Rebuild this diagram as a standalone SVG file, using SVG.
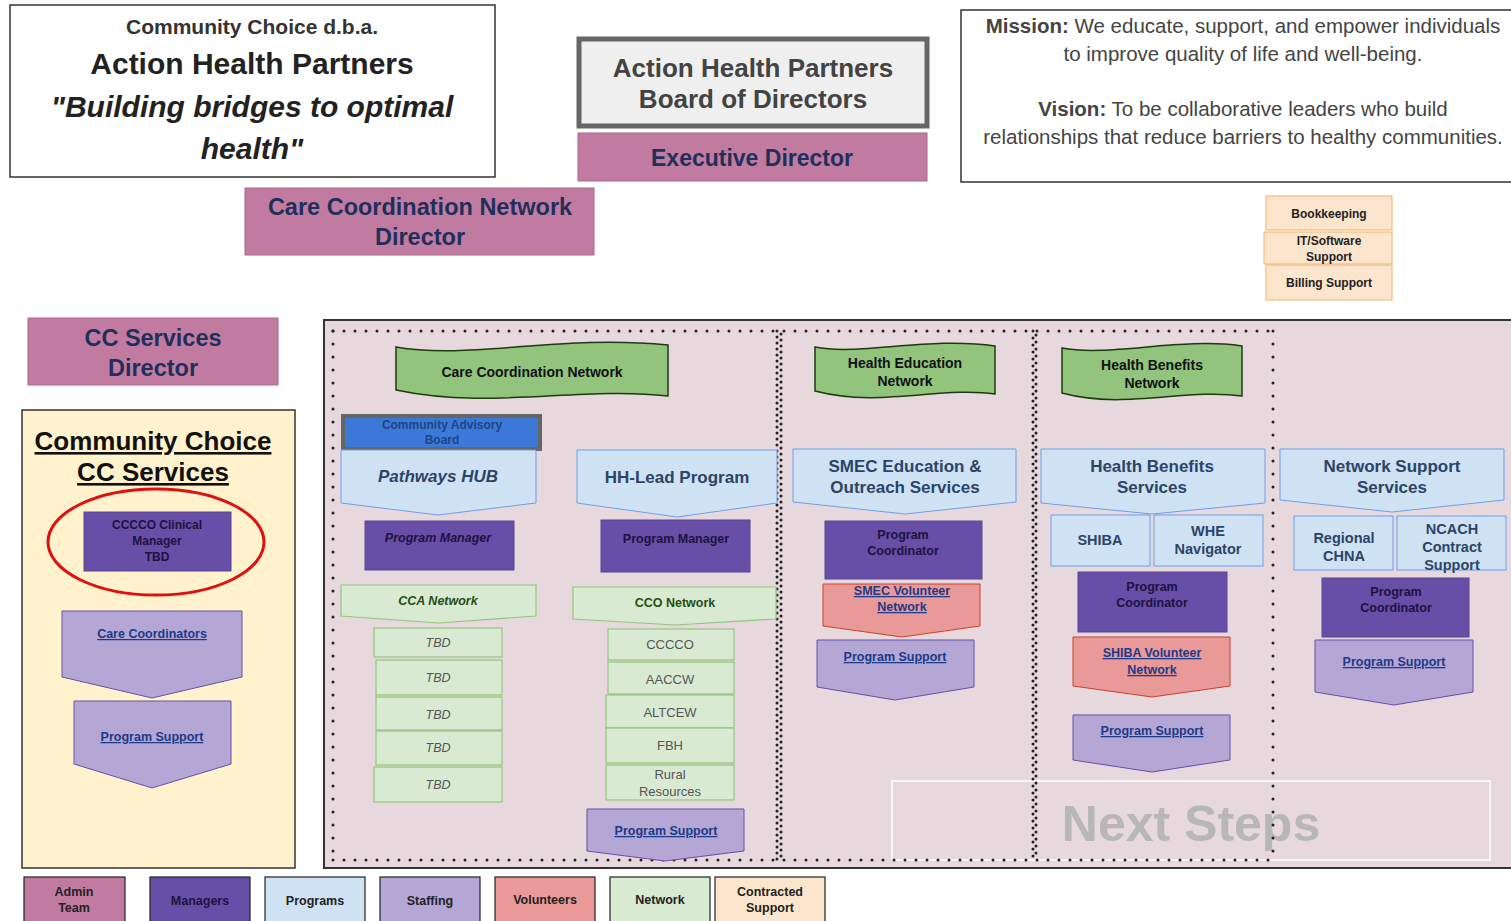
<svg xmlns="http://www.w3.org/2000/svg" width="1511" height="921" viewBox="0 0 1511 921">
<style>
text{font-family:"Liberation Sans",Arial,sans-serif;text-anchor:middle;font-weight:bold}
text.n,tspan.n{font-weight:normal}
.admin{fill:#c27ba0;stroke:#a86a8c;stroke-width:1}
.mgr{fill:#674ea7;stroke:#5b4595;stroke-width:1}
.prog{fill:#cfe2f3;stroke:#6d9eeb;stroke-width:1}
.staff{fill:#b4a7d6;stroke:#674ea7;stroke-width:1}
.vol{fill:#ea9999;stroke:#cc4125;stroke-width:1}
.net{fill:#d9ead3;stroke:#93c47d;stroke-width:1.2}
.con{fill:#fce5cd;stroke:#f6b26b;stroke-width:1}
.wave{fill:#93c47d;stroke:#1f3a10;stroke-width:1.5}
.navy{fill:#1f2f5c}
.pt{fill:#2b4468}
.dk{fill:#1b1340}
.lk{fill:#1c3a87;text-decoration:underline}
.gr{fill:#274e13}
.dot{fill:none;stroke:#222;stroke-width:3;stroke-linecap:round}
.leg{stroke:#222;stroke-width:1.2}
</style>
<rect width="1511" height="921" fill="#ffffff"/>

<g id="title">
<rect x="10" y="5" width="485" height="172" fill="#ffffff" stroke="#333" stroke-width="1.5"/>
<text x="252" y="34" font-size="21" fill="#333">Community Choice d.b.a.</text>
<text x="252" y="74" font-size="30" fill="#222">Action Health Partners</text>
<text x="252" y="117" font-size="30" fill="#222" font-style="italic">"Building bridges to optimal</text>
<text x="252" y="159" font-size="30" fill="#222" font-style="italic">health"</text>
</g>

<g id="board">
<rect x="579" y="39" width="348" height="87" fill="#efefef" stroke="#666" stroke-width="5"/>
<text x="753" y="77" font-size="26" fill="#434343">Action Health Partners</text>
<text x="753" y="108" font-size="26" fill="#434343">Board of Directors</text>
</g>

<g id="exec">
<rect class="admin" x="578" y="133" width="349" height="48"/>
<text class="navy" x="752" y="166" font-size="23">Executive Director</text>
</g>

<g id="mission">
<rect x="961" y="10" width="560" height="172" fill="#ffffff" stroke="#333" stroke-width="1.5"/>
<text class="n" x="1243" y="33" font-size="20.5" fill="#444"><tspan style="font-weight:bold">Mission:</tspan>  We educate, support, and empower individuals</text>
<text class="n" x="1243" y="61" font-size="20.5" fill="#444">to improve quality of life and well-being.</text>
<text class="n" x="1243" y="116" font-size="20.5" fill="#444"><tspan style="font-weight:bold">Vision:</tspan>  To be collaborative leaders who build</text>
<text class="n" x="1243" y="144" font-size="20.5" fill="#444">relationships that reduce barriers to healthy communities.</text>
</g>

<g id="ccn-director">
<rect class="admin" x="245" y="188" width="349" height="67"/>
<text class="navy" x="420" y="215" font-size="23.5">Care Coordination Network</text>
<text class="navy" x="420" y="245" font-size="23.5">Director</text>
</g>

<g id="contracted">
<rect class="con" x="1266" y="196" width="126" height="34"/>
<text x="1329" y="218" font-size="12" fill="#222">Bookkeeping</text>
<rect class="con" x="1264" y="232" width="128" height="32"/>
<text x="1329" y="245" font-size="12" fill="#222">IT/Software</text>
<text x="1329" y="261" font-size="12" fill="#222">Support</text>
<rect class="con" x="1266" y="265" width="126" height="35"/>
<text x="1329" y="287" font-size="12" fill="#222">Billing Support</text>
</g>

<g id="cc-director">
<rect class="admin" x="28" y="318" width="250" height="67"/>
<text class="navy" x="153" y="346" font-size="23.5">CC Services</text>
<text class="navy" x="153" y="376" font-size="23.5">Director</text>
</g>

<g id="cc-services">
<rect x="22" y="410" width="273" height="458" fill="#fff2cc" stroke="#333" stroke-width="1.5"/>
<text x="153" y="450" font-size="26" fill="#111" text-decoration="underline">Community Choice</text>
<text x="153" y="481" font-size="26" fill="#111" text-decoration="underline">CC Services</text>
</g>

<g id="cccco-manager">
<rect class="mgr" x="84" y="512" width="147" height="59"/>
<text class="dk" x="157" y="529" font-size="12">CCCCO Clinical</text>
<text class="dk" x="157" y="545" font-size="12">Manager</text>
<text class="dk" x="157" y="561" font-size="12">TBD</text>
<ellipse cx="156" cy="542" rx="108" ry="53" fill="none" stroke="#e01010" stroke-width="3"/>
</g>

<g id="care-coordinators">
<polygon class="staff" points="62,611 242,611 242,677 152,698 62,677"/>
<text class="lk" x="152" y="638" font-size="12.5">Care Coordinators</text>
</g>
<g id="cc-program-support">
<polygon class="staff" points="74,701 231,701 231,764 152,788 74,764"/>
<text class="lk" x="152" y="741" font-size="12.5">Program Support</text>
</g>

<g id="panel">
<rect x="324" y="320" width="1200" height="548" fill="#e7d8de" stroke="#333" stroke-width="2"/>
<rect x="892" y="781" width="598" height="79" fill="none" stroke="#ffffff" stroke-width="1.5"/>
<text x="1191" y="841" font-size="50" fill="#b7b7b7">Next Steps</text>
</g>

<g id="connectors">
<path class="dot" stroke-dasharray="0 11" d="M333,331 H1273"/>
<path class="dot" stroke-dasharray="0 13" d="M333,331 V860"/>
<path class="dot" stroke-dasharray="0 11" d="M333,860 H1273"/>
<path class="dot" stroke-dasharray="0 6" stroke-width="2.5" d="M777,331 V860"/>
<path class="dot" stroke-dasharray="0 6" stroke-width="2.5" d="M781,334 V857"/>
<path class="dot" stroke-dasharray="0 7" stroke-width="2.5" d="M1033,331 V860"/>
<path class="dot" stroke-dasharray="0 7" stroke-width="2.5" d="M1036,335 V856"/>
<path class="dot" stroke-dasharray="0 13" d="M1273,331 V856"/>
</g>

<g id="ccn-banner">
<path class="wave" d="M396,347 C470,360 560,334 668,345 L668,396 C580,386 490,410 396,390 Z"/>
<text x="532" y="377" font-size="14" fill="#111">Care Coordination Network</text>
</g>

<g id="hen-banner">
<path class="wave" d="M815,347 C860,356 930,336 995,346 L995,394 C940,386 880,408 815,391 Z"/>
<text x="905" y="368" font-size="14" fill="#111">Health Education</text>
<text x="905" y="386" font-size="14" fill="#111">Network</text>
</g>

<g id="hbn-banner">
<path class="wave" d="M1062,348 C1110,357 1180,337 1242,346 L1242,396 C1185,388 1125,410 1062,393 Z"/>
<text x="1152" y="370" font-size="14" fill="#111">Health Benefits</text>
<text x="1152" y="388" font-size="14" fill="#111">Network</text>
</g>

<g id="advisory-board">
<rect x="343" y="416" width="197" height="33" fill="#3c78d8" stroke="#666" stroke-width="4"/>
<text x="442" y="429" font-size="12" fill="#1c4587">Community Advisory</text>
<text x="442" y="444" font-size="12" fill="#1c4587">Board</text>
</g>

<g id="pathways-hub">
<polygon class="prog" points="341,450 536,450 536,503 438,515 341,503"/>
<text class="pt" x="438" y="482" font-size="17" font-style="italic">Pathways HUB</text>
</g>
<g id="hh-lead">
<polygon class="prog" points="577,450 777,450 777,503 677,517 577,503"/>
<text class="pt" x="677" y="483" font-size="17">HH-Lead Program</text>
</g>

<g id="pm-pathways">
<rect class="mgr" x="365" y="521" width="149" height="49"/>
<text class="dk" x="438" y="542" font-size="12.5" font-style="italic">Program Manager</text>
</g>
<g id="pm-hh">
<rect class="mgr" x="601" y="520" width="149" height="52"/>
<text class="dk" x="676" y="543" font-size="12.5">Program Manager</text>
</g>

<g id="cca-network">
<polygon class="net" points="341,585 536,585 536,616 438,623 341,616"/>
<text class="gr" x="438" y="605" font-size="12.5" font-style="italic">CCA  Network</text>
</g>
<g id="cco-network">
<polygon class="net" points="573,587 776,587 776,619 675,625 573,619"/>
<text class="gr" x="675" y="607" font-size="12.5">CCO Network</text>
</g>

<g id="tbd-1"><rect class="net" x="374" y="628" width="128" height="29"/><text class="n" x="438" y="647" font-size="12.5" fill="#555" font-style="italic">TBD</text></g>
<g id="tbd-2"><rect class="net" x="376" y="660" width="126" height="35"/><text class="n" x="438" y="682" font-size="12.5" fill="#555" font-style="italic">TBD</text></g>
<g id="tbd-3"><rect class="net" x="376" y="697" width="126" height="33"/><text class="n" x="438" y="719" font-size="12.5" fill="#555" font-style="italic">TBD</text></g>
<g id="tbd-4"><rect class="net" x="376" y="731" width="126" height="34"/><text class="n" x="438" y="752" font-size="12.5" fill="#555" font-style="italic">TBD</text></g>
<g id="tbd-5"><rect class="net" x="374" y="767" width="128" height="35"/><text class="n" x="438" y="789" font-size="12.5" fill="#555" font-style="italic">TBD</text></g>

<g id="cccco"><rect class="net" x="608" y="629" width="126" height="31"/><text class="n" x="670" y="649" font-size="13" fill="#555">CCCCO</text></g>
<g id="aaccw"><rect class="net" x="608" y="662" width="126" height="32"/><text class="n" x="670" y="684" font-size="13" fill="#555">AACCW</text></g>
<g id="altcew"><rect class="net" x="606" y="695" width="128" height="33"/><text class="n" x="670" y="717" font-size="13" fill="#555">ALTCEW</text></g>
<g id="fbh"><rect class="net" x="606" y="728" width="128" height="35"/><text class="n" x="670" y="750" font-size="13" fill="#555">FBH</text></g>
<g id="rural"><rect class="net" x="606" y="765" width="128" height="35"/><text class="n" x="670" y="779" font-size="13" fill="#555">Rural</text><text class="n" x="670" y="796" font-size="13" fill="#555">Resources</text></g>

<g id="hh-program-support">
<polygon class="staff" points="587,809 744,809 744,851 665,861 587,851"/>
<text class="lk" x="666" y="835" font-size="12.5">Program Support</text>
</g>

<g id="smec">
<polygon class="prog" points="793,449 1016,449 1016,502 905,514 793,502"/>
<text class="pt" x="905" y="472" font-size="17">SMEC Education &amp;</text>
<text class="pt" x="905" y="493" font-size="17">Outreach Services</text>
</g>
<g id="smec-coordinator">
<rect class="mgr" x="825" y="521" width="157" height="58"/>
<text class="dk" x="903" y="539" font-size="12.5">Program</text>
<text class="dk" x="903" y="555" font-size="12.5">Coordinator</text>
</g>
<g id="smec-volunteer">
<polygon class="vol" points="823,584 980,584 980,626 902,637 823,626"/>
<text class="lk" x="902" y="595" font-size="12.5">SMEC Volunteer</text>
<text class="lk" x="902" y="611" font-size="12.5">Network</text>
</g>
<g id="smec-program-support">
<polygon class="staff" points="817,640 974,640 974,687 895,700 817,687"/>
<text class="lk" x="895" y="661" font-size="12.5">Program Support</text>
</g>

<g id="hbs">
<polygon class="prog" points="1041,449 1265,449 1265,503 1152,514 1041,503"/>
<text class="pt" x="1152" y="472" font-size="17">Health Benefits</text>
<text class="pt" x="1152" y="493" font-size="17">Services</text>
</g>
<g id="shiba">
<rect class="prog" x="1051" y="515" width="99" height="51"/>
<text class="pt" x="1100" y="545" font-size="14.5">SHIBA</text>
</g>
<g id="whe">
<rect class="prog" x="1154" y="515" width="109" height="51"/>
<text class="pt" x="1208" y="536" font-size="14.5">WHE</text>
<text class="pt" x="1208" y="554" font-size="14.5">Navigator</text>
</g>
<g id="hb-coordinator">
<rect class="mgr" x="1078" y="572" width="149" height="60"/>
<text class="dk" x="1152" y="591" font-size="12.5">Program</text>
<text class="dk" x="1152" y="607" font-size="12.5">Coordinator</text>
</g>
<g id="shiba-volunteer">
<polygon class="vol" points="1073,637 1230,637 1230,686 1152,697 1073,686"/>
<text class="lk" x="1152" y="657" font-size="12.5">SHIBA Volunteer</text>
<text class="lk" x="1152" y="674" font-size="12.5">Network</text>
</g>
<g id="hb-program-support">
<polygon class="staff" points="1073,715 1230,715 1230,760 1152,772 1073,760"/>
<text class="lk" x="1152" y="735" font-size="12.5">Program Support</text>
</g>

<g id="nss">
<polygon class="prog" points="1280,449 1504,449 1504,500 1392,512 1280,500"/>
<text class="pt" x="1392" y="472" font-size="17">Network Support</text>
<text class="pt" x="1392" y="493" font-size="17">Services</text>
</g>
<g id="chna">
<rect class="prog" x="1294" y="516" width="99" height="54"/>
<text class="pt" x="1344" y="543" font-size="14.5">Regional</text>
<text class="pt" x="1344" y="561" font-size="14.5">CHNA</text>
</g>
<g id="ncach">
<rect class="prog" x="1397" y="516" width="109" height="54"/>
<text class="pt" x="1452" y="534" font-size="14.5">NCACH</text>
<text class="pt" x="1452" y="552" font-size="14.5">Contract</text>
<text class="pt" x="1452" y="570" font-size="14.5">Support</text>
</g>
<g id="ns-coordinator">
<rect class="mgr" x="1322" y="578" width="147" height="59"/>
<text class="dk" x="1396" y="596" font-size="12.5">Program</text>
<text class="dk" x="1396" y="612" font-size="12.5">Coordinator</text>
</g>
<g id="ns-program-support">
<polygon class="staff" points="1315,640 1473,640 1473,692 1394,705 1315,692"/>
<text class="lk" x="1394" y="666" font-size="12.5">Program Support</text>
</g>

<g id="legend">
<rect class="admin leg" x="24" y="877" width="101" height="50"/>
<text x="74" y="896" font-size="12.5" fill="#222">Admin</text>
<text x="74" y="912" font-size="12.5" fill="#222">Team</text>
<rect class="mgr leg" x="150" y="877" width="100" height="50"/>
<text x="200" y="905" font-size="12.5" fill="#1b1340">Managers</text>
<rect class="prog leg" x="265" y="877" width="100" height="50"/>
<text x="315" y="905" font-size="12.5" fill="#222">Programs</text>
<rect class="staff leg" x="380" y="877" width="100" height="50"/>
<text x="430" y="905" font-size="12.5" fill="#222">Staffing</text>
<rect class="vol leg" x="495" y="877" width="100" height="50"/>
<text x="545" y="904" font-size="12.5" fill="#222">Volunteers</text>
<rect class="net leg" x="610" y="877" width="100" height="50"/>
<text x="660" y="904" font-size="12.5" fill="#222">Network</text>
<rect class="con leg" x="715" y="877" width="110" height="50"/>
<text x="770" y="896" font-size="12.5" fill="#222">Contracted</text>
<text x="770" y="912" font-size="12.5" fill="#222">Support</text>
</g>
</svg>
